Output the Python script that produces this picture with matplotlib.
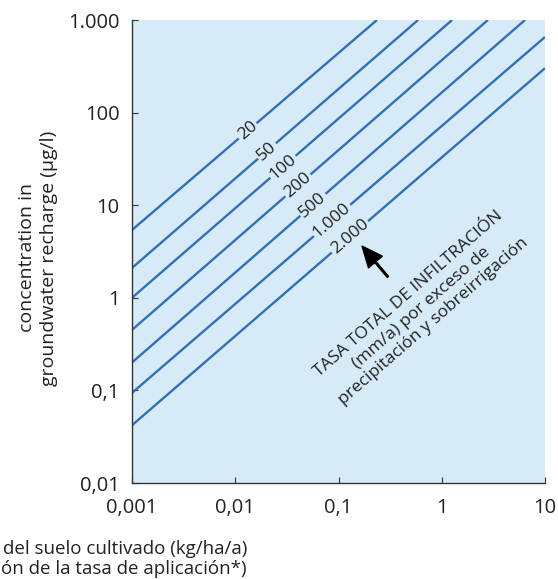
import numpy as np
import matplotlib
matplotlib.use("Agg")
import matplotlib.pyplot as plt

plt.rcParams['font.family'] = ['Open Sans', 'DejaVu Sans']

# ---- data ----
x_ticks = [0.001, 0.01, 0.1, 1, 10]
x_tick_labels = ['0,001', '0,01', '0,1', '1', '10']
y_ticks = [0.01, 0.1, 1, 10, 100, 1000]
y_tick_labels = ['0,01', '0,1', '1', '10', '100', '1.000']

infiltration_labels = ['20', '50', '100', '200', '500', '1.000', '2.000']
line_start_x = [0.001, 0.001, 0.001, 0.001, 0.001, 0.001, 0.001]
line_start_y = [5.4, 2.1, 1.0, 0.45, 0.2, 0.094, 0.042]
line_end_x = [0.236, 0.59, 1.26, 2.8, 6.4, 10, 10]
line_end_y = [1000, 1000, 1000, 1000, 1000, 655, 302]
label_x = [0.0132, 0.0203, 0.029, 0.0405, 0.0566, 0.0865, 0.129]

BG = '#d6eaf7'
LINE = '#336fb8'

fig = plt.figure(figsize=(5.58, 5.79), dpi=100)
ax = fig.add_axes([132/558, 1-483/579, (545-132)/558, (483-20)/579])
ax.set_facecolor(BG)
ax.set_xscale('log')
ax.set_yscale('log')
ax.set_xlim(0.001, 10)
ax.set_ylim(0.01, 1000)

for xs, ys, xe, ye, lab, lx in zip(line_start_x, line_start_y, line_end_x,
                                   line_end_y, infiltration_labels, label_x):
    ax.plot([xs, xe], [ys, ye], color=LINE, lw=1.7, solid_capstyle='butt')
    t = (np.log10(lx) - np.log10(xs)) / (np.log10(xe) - np.log10(xs))
    ly = 10 ** (np.log10(ys) + t * (np.log10(ye) - np.log10(ys)))
    ax.text(lx, ly, lab, rotation=41, ha='center', va='center',
            rotation_mode='anchor', fontsize=12.5, color='#222222',
            bbox=dict(facecolor=BG, edgecolor='none', pad=1.2))

# arrow
ax.annotate('', xy=(0.169, 3.62), xytext=(0.301, 1.68),
            arrowprops=dict(facecolor='black', edgecolor='black', width=1.2,
                            headwidth=13, headlength=15, shrink=0))

ax.text(0.63, 0.776,
        'TASA TOTAL DE INFILTRACIÓN\n(mm/a) por exceso de\nprecipitación y sobreirrigación',
        rotation=41, ha='center', va='center', rotation_mode='anchor',
        multialignment='center', fontsize=12.5, color='#222222', linespacing=1.2)

for s in ['top', 'right']:
    ax.spines[s].set_visible(False)
for s in ['left', 'bottom']:
    ax.spines[s].set_color('#333333')
    ax.spines[s].set_linewidth(1.0)

ax.set_xticks(x_ticks)
ax.set_xticklabels(x_tick_labels)
ax.set_yticks(y_ticks)
ax.set_yticklabels(y_tick_labels)
ax.minorticks_off()
ax.tick_params(axis='both', direction='in', length=4, width=0.8,
               labelsize=14.5, colors='#333333', labelcolor='#222222')
ax.tick_params(axis='x', pad=11)
ax.tick_params(axis='y', pad=9)

fig.text(38/558, 1-258/579, 'concentration in\ngroundwater recharge (µg/l)',
         rotation=90, ha='center', va='center', multialignment='center',
         fontsize=14, color='#222222', linespacing=1.35)

fig.text(247/558, 1-549/579, 'del suelo cultivado (kg/ha/a)', ha='right',
         va='center', fontsize=13.5, color='#222222')
fig.text(247/558, 1-569/579, 'ón de la tasa de aplicación*)', ha='right',
         va='center', fontsize=13.5, color='#222222')

fig.savefig('out.png', dpi=100, facecolor='white')
